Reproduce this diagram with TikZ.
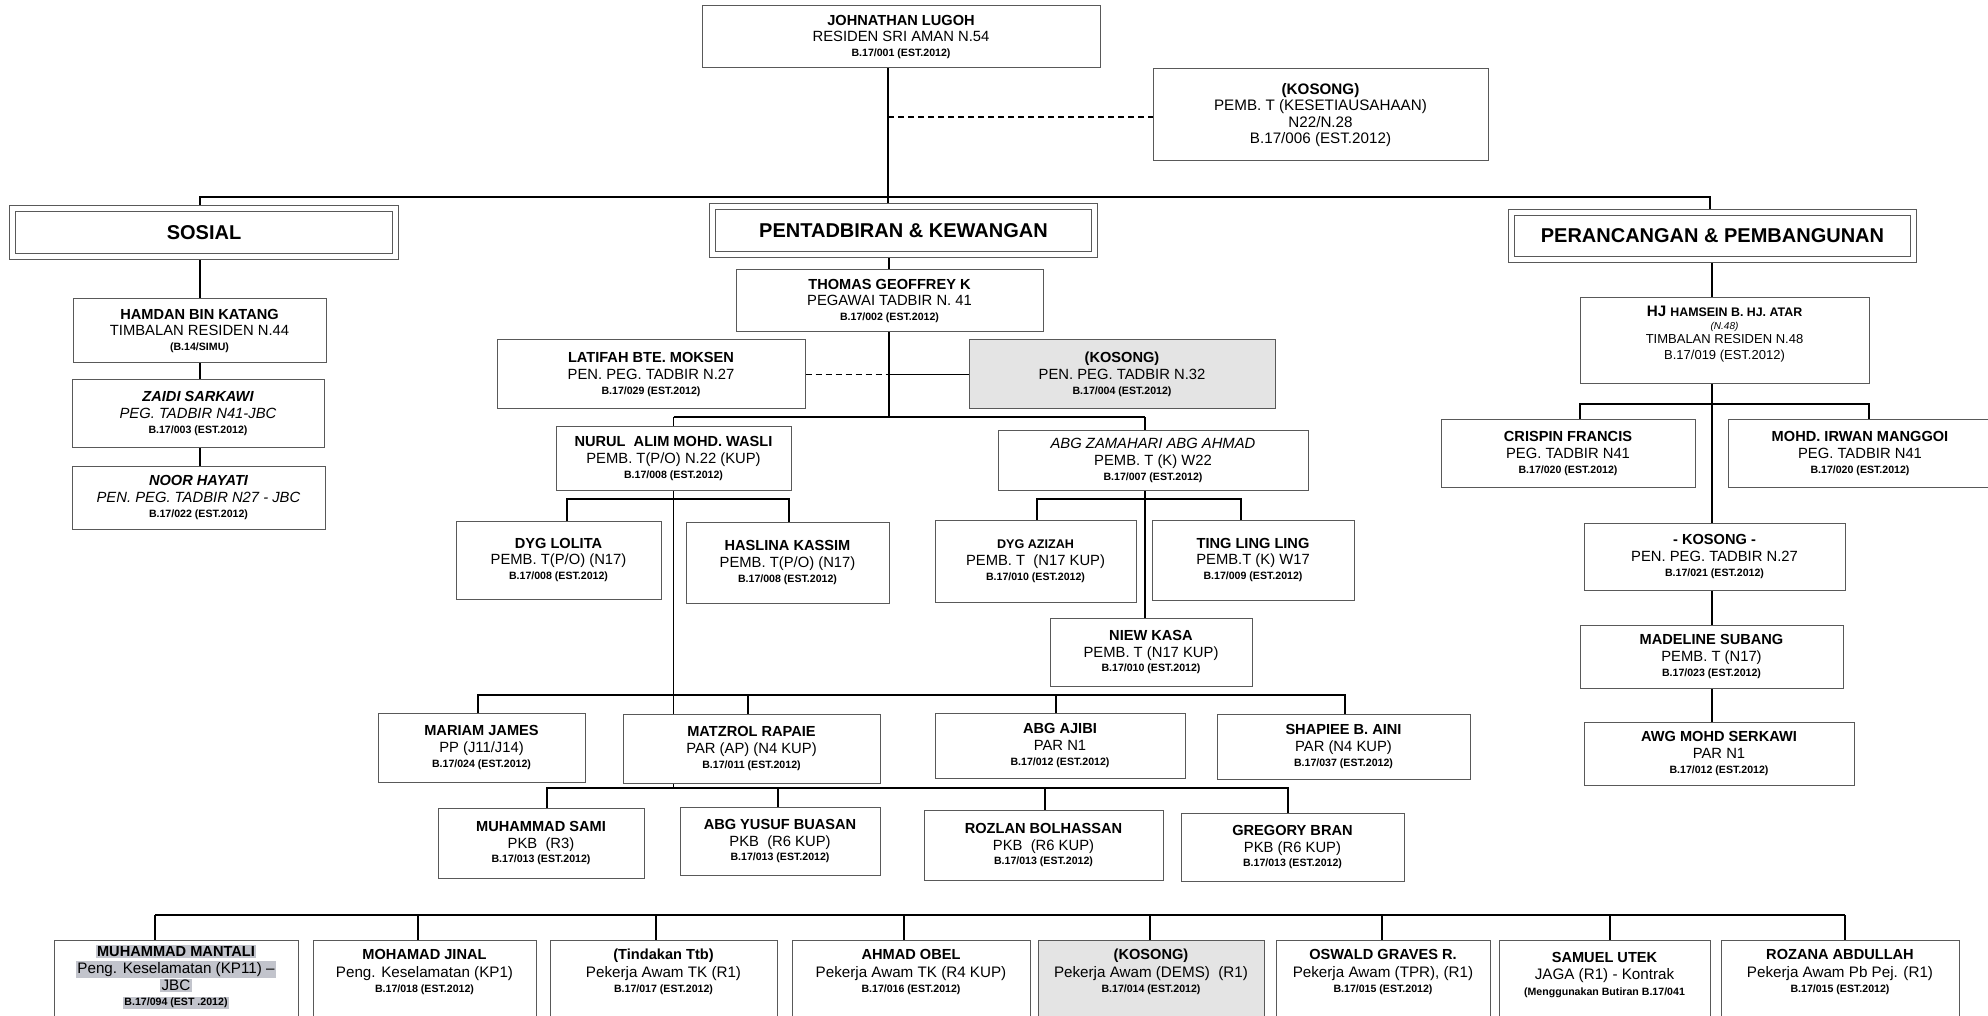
\documentclass[tikz,border=0pt]{standalone}
\usepackage{fontspec}
\setmainfont{Liberation Sans}
\usetikzlibrary{backgrounds}
\definecolor{hlgray}{HTML}{C2C4CC}
\definecolor{kosgray}{HTML}{E4E4E4}
\newcommand\bxname[1]{{\bfseries\fontsize{7.3}{8.4}\selectfont #1}}
\newcommand\bxcode[1]{{\bfseries\fontsize{5.3}{6}\selectfont #1}}
\newcommand\hlbox[1]{{\setlength\fboxsep{0.7pt}\colorbox{hlgray}{#1}}}
\begin{document}
\begin{tikzpicture}[x=0.5pt,y=-0.5pt,
  box/.style 2 args={draw=black!65, line width=0.5pt, fill=white,
    minimum width=#1*0.5pt, minimum height=#2*0.5pt, inner sep=1pt,
    align=center, font=\fontsize{7.4}{8.4}\selectfont},
  hdr/.style 2 args={box={#1}{#2}, double=white, double distance=2.2pt,
    line width=0.45pt, font=\bfseries\fontsize{10}{12}\selectfont},
  bbox/.style={draw=black!65, line width=0.5pt, fill=white,
    minimum width=#1*0.5pt, minimum height=45pt, inner sep=0pt},
  btext/.style={align=center, inner sep=0pt, font=\fontsize{7.6}{8.6}\selectfont},
  conn/.style={draw=black, line width=0.8pt},
  dconn/.style={conn, dashed, dash pattern=on 3pt off 2pt, line width=0.6pt}]
\useasboundingbox (0,0) rectangle (1988,1016);

% ---------- top ----------
\node[box={398}{62}] (john) at (901,37) {\bxname{JOHNATHAN LUGOH}\\ RESIDEN SRI AMAN N.54\\[-1pt] \bxcode{B.17/001 (EST.2012)}};
\node[box={335}{92}, font=\fontsize{7.6}{8.3}\selectfont] (kos1) at (1320.5,115) {\textbf{(KOSONG)}\\ PEMB. T (KESETIAUSAHAAN)\\ N22/N.28\\ B.17/006 (EST.2012)};

% ---------- headers ----------
\node[hdr={383}{48}] (sosial) at (204,232.5) {SOSIAL};
\node[hdr={382}{48}] (pent) at (903.5,230.5) {PENTADBIRAN \& KEWANGAN};
\node[hdr={402}{47}] (peran) at (1712.5,236) {PERANCANGAN \& PEMBANGUNAN};

% ---------- sosial ----------
\node[box={253}{64}] (hamdan) at (199.5,331) {\bxname{HAMDAN BIN KATANG}\\ TIMBALAN RESIDEN N.44\\[-1pt] \bxcode{(B.14/SIMU)}};
\node[box={252}{67}] (zaidi) at (198,413.5) {\bxname{\itshape ZAIDI SARKAWI}\\ \textit{PEG. TADBIR N41-JBC}\\[-1pt] \bxcode{B.17/003 (EST.2012)}};
\node[box={253}{63}] (noor) at (198.5,497.5) {\bxname{\itshape NOOR HAYATI}\\ \textit{PEN. PEG. TADBIR N27 - JBC}\\[-1pt] \bxcode{B.17/022 (EST.2012)}};

% ---------- pentadbiran ----------
\node[box={307}{62}] (thomas) at (889.5,301) {\bxname{THOMAS GEOFFREY K}\\ PEGAWAI TADBIR N. 41\\[-1pt] \bxcode{B.17/002 (EST.2012)}};
\node[box={308}{69}] (latifah) at (651,374.5) {\bxname{LATIFAH BTE. MOKSEN}\\ PEN. PEG. TADBIR N.27\\[-1pt] \bxcode{B.17/029 (EST.2012)}};
\node[box={306}{69}, fill=kosgray] (kos32) at (1122,374.5) {\bxname{(KOSONG)}\\ PEN. PEG. TADBIR N.32\\[-1pt] \bxcode{B.17/004 (EST.2012)}};
\node[box={235}{63}] (nurul) at (673.5,458.5) {\bxname{NURUL\ \ ALIM MOHD. WASLI}\\ PEMB. T(P/O) N.22 (KUP)\\[-1pt] \bxcode{B.17/008 (EST.2012)}};
\node[box={310}{59}] (zamahari) at (1153,460.5) {{\itshape ABG ZAMAHARI ABG AHMAD}\\ PEMB. T (K) W22\\[-1pt] \bxcode{B.17/007 (EST.2012)}};
\node[box={205}{78}] (lolita) at (558.5,560) {\bxname{DYG LOLITA}\\ PEMB. T(P/O) (N17)\\[-1pt] \bxcode{B.17/008 (EST.2012)}};
\node[box={203}{81}] (haslina) at (787.5,562.5) {\bxname{HASLINA KASSIM}\\ PEMB. T(P/O) (N17)\\[-1pt] \bxcode{B.17/008 (EST.2012)}};
\node[box={201}{82}] (azizah) at (1035.5,561) {{\bfseries\fontsize{6.3}{8}\selectfont DYG AZIZAH}\\ PEMB. T\ \ (N17 KUP)\\[-1pt] \bxcode{B.17/010 (EST.2012)}};
\node[box={202}{80}] (ting) at (1253,560) {\bxname{TING LING LING}\\ PEMB.T (K) W17\\[-1pt] \bxcode{B.17/009 (EST.2012)}};
\node[box={202}{68}] (niew) at (1151,652) {\bxname{NIEW KASA}\\ PEMB. T (N17 KUP)\\[-1pt] \bxcode{B.17/010 (EST.2012)}};

\node[box={207}{69}] (mariam) at (481.5,747.5) {\bxname{MARIAM JAMES}\\ PP (J11/J14)\\[-1pt] \bxcode{B.17/024 (EST.2012)}};
\node[box={257}{69}] (matzrol) at (751.5,748.5) {\bxname{MATZROL RAPAIE}\\ PAR (AP) (N4 KUP)\\[-1pt] \bxcode{B.17/011 (EST.2012)}};
\node[box={250}{65}] (ajibi) at (1060,745.5) {\bxname{ABG AJIBI}\\ PAR N1\\[-1pt] \bxcode{B.17/012 (EST.2012)}};
\node[box={253}{65}] (shapiee) at (1343.5,746.5) {\bxname{SHAPIEE B. AINI}\\ PAR (N4 KUP)\\[-1pt] \bxcode{B.17/037 (EST.2012)}};

\node[box={206}{70}] (sami) at (541,843) {\bxname{MUHAMMAD SAMI}\\ PKB\ \ (R3)\\[-1pt] \bxcode{B.17/013 (EST.2012)}};
\node[box={200}{68}] (yusuf) at (780,841) {\bxname{ABG YUSUF BUASAN}\\ PKB\ \ (R6 KUP)\\[-1pt] \bxcode{B.17/013 (EST.2012)}};
\node[box={239}{70}] (rozlan) at (1043.5,845) {\bxname{ROZLAN BOLHASSAN}\\ PKB\ \ (R6 KUP)\\[-1pt] \bxcode{B.17/013 (EST.2012)}};
\node[box={223}{68}] (gregory) at (1292.5,847) {\bxname{GREGORY BRAN}\\ PKB (R6 KUP)\\[-1pt] \bxcode{B.17/013 (EST.2012)}};

% ---------- perancangan ----------
\node[box={289}{86}] (hamsein) at (1724.5,341) {};
\node[align=center, inner sep=0pt, font=\fontsize{6.5}{7.2}\selectfont] (hamseint) at (1724.5,334) {{\bfseries\fontsize{7.6}{8.4}\selectfont HJ {\fontsize{6.2}{8}\selectfont HAMSEIN B. HJ. ATAR}}\\[-0.3pt]
  {\itshape\fontsize{5}{6}\selectfont (N.48)}\\[-0.6pt]
  TIMBALAN RESIDEN N.48\\[1pt]
  B.17/019 (EST.2012)};
\node[box={254}{67}] (crispin) at (1568,453.5) {\bxname{CRISPIN FRANCIS}\\ PEG. TADBIR N41\\[-1pt] \bxcode{B.17/020 (EST.2012)}};
\node[box={264}{67}] (irwan) at (1860,453.5) {\bxname{MOHD. IRWAN MANGGOI}\\ PEG. TADBIR N41\\[-1pt] \bxcode{B.17/020 (EST.2012)}};
\node[box={261}{67}] (kos27) at (1714.5,556.5) {\bxname{- KOSONG -}\\ PEN. PEG. TADBIR N.27\\[-1pt] \bxcode{B.17/021 (EST.2012)}};
\node[box={263}{63}] (madeline) at (1711.5,656.5) {\bxname{MADELINE SUBANG}\\ PEMB. T (N17)\\[-1pt] \bxcode{B.17/023 (EST.2012)}};
\node[box={270}{63}] (awg) at (1719,753.5) {\bxname{AWG MOHD SERKAWI}\\ PAR N1\\[-1pt] \bxcode{B.17/012 (EST.2012)}};

% ---------- bottom row ----------
\node[bbox=244] (mantali) at (176,985) {};
\node[bbox=223] (jinal) at (424.5,985) {};
\node[bbox=227] (tindakan) at (663.5,985) {};
\node[bbox=238] (obel) at (911,985) {};
\node[bbox=226, fill=kosgray] (dems) at (1151,985) {};
\node[bbox=214] (oswald) at (1383,985) {};
\node[bbox=211] (samuel) at (1604.5,985) {};
\node[bbox=238] (rozana) at (1840,985) {};

\node[btext] (mantalit) at (176,977) {\hlbox{\bxname{MUHAMMAD MANTALI}}\\ \hlbox{Peng. Keselamatan (KP11) –}\\ \hlbox{JBC}\\[-1pt] \hlbox{\bxcode{B.17/094 (EST .2012)}}};
\node[btext] (jinalt) at (424.5,972) {\bxname{MOHAMAD JINAL}\\ Peng. Keselamatan (KP1)\\[-1pt] \bxcode{B.17/018 (EST.2012)}};
\node[btext] (tindakant) at (663.5,972) {\bxname{(Tindakan Ttb)}\\ Pekerja Awam TK (R1)\\[-1pt] \bxcode{B.17/017 (EST.2012)}};
\node[btext] (obelt) at (911,972) {\bxname{AHMAD OBEL}\\ Pekerja Awam TK (R4 KUP)\\[-1pt] \bxcode{B.17/016 (EST.2012)}};
\node[btext] (demst) at (1151,972) {\bxname{(KOSONG)}\\ Pekerja Awam (DEMS)\ \ (R1)\\[-1pt] \bxcode{B.17/014 (EST.2012)}};
\node[btext] (oswaldt) at (1383,972) {\bxname{OSWALD GRAVES R.}\\ Pekerja Awam (TPR), (R1)\\[-1pt] \bxcode{B.17/015 (EST.2012)}};
\node[btext] (samuelt) at (1604.5,975) {\bxname{SAMUEL UTEK}\\ JAGA (R1) - Kontrak\\[-1pt] \bxcode{(Menggunakan Butiran B.17/041}};
\node[btext] (rozanat) at (1840,972) {\bxname{ROZANA ABDULLAH}\\ Pekerja Awam Pb Pej. (R1)\\[-1pt] \bxcode{B.17/015 (EST.2012)}};

% ---------- junction coordinates ----------
\coordinate (busL) at (200,197);
\coordinate (busM) at (888,197);
\coordinate (busR) at (1710,197);
\coordinate (dashA) at (888,117);
\coordinate (pm) at (889,0);
\coordinate (b2L) at (673.5,417);
\coordinate (b2M) at (889,417);
\coordinate (b2R) at (1145,417);
\coordinate (dl) at (889,374.5);
\coordinate (b3L) at (567,499);
\coordinate (b3R) at (789,499);
\coordinate (b4L) at (1037,499);
\coordinate (b4R) at (1241,499);
\coordinate (r1L) at (478,695);
\coordinate (r1b) at (748,695);
\coordinate (r1c) at (1056,695);
\coordinate (r1R) at (1345,695);
\coordinate (b5L) at (547,788);
\coordinate (b5b) at (778,788);
\coordinate (b5N) at (673.5,788);
\coordinate (b5c) at (1045,788);
\coordinate (b5R) at (1288,788);
\coordinate (rx) at (1712,0);
\coordinate (r3L) at (1580,404);
\coordinate (r3R) at (1869,404);
\coordinate (d1) at (155,915);
\coordinate (d2) at (418,915);
\coordinate (d3) at (656,915);
\coordinate (d4) at (904,915);
\coordinate (d5) at (1150,915);
\coordinate (d6) at (1382,915);
\coordinate (d7) at (1610,915);
\coordinate (d8) at (1845,915);

% ---------- connectors ----------
\begin{pgfonlayer}{background}
\draw[conn] (john.south -| busM) -- (pent.north -| busM);
\draw[dconn] (dashA) -- (kos1.west |- dashA);
\draw[conn] (busL |- sosial.north) -- (busL) -- (busR) -- (busR |- peran.north);
\draw[conn] (sosial.south -| busL) -- (hamdan.north -| busL);
\draw[conn] (hamdan.south -| busL) -- (zaidi.north -| busL);
\draw[conn] (zaidi.south -| busL) -- (noor.north -| busL);

\draw[conn] (pent.south -| pm) -- (thomas.north -| pm);
\draw[conn] (thomas.south -| pm) -- (b2M);
\draw[dconn] (latifah.east) -- (dl);
\draw[conn] (dl) -- (kos32.west);
\draw[conn] (b2L) -- (b2R);
\draw[conn] (b2L) -- (nurul.north -| b2L);
\draw[conn] (b2R) -- (zamahari.north -| b2R);
\draw[conn] (nurul.south) -- (b5N);
\draw[conn] (lolita.north -| b3L) -- (b3L) -- (b3R) -- (haslina.north -| b3R);
\draw[conn] (azizah.north -| b4L) -- (b4L) -- (b4R) -- (ting.north -| b4R);
\draw[conn] (zamahari.south -| b2R) -- (niew.north -| b2R);

\draw[conn] (mariam.north -| r1L) -- (r1L) -- (r1R) -- (shapiee.north -| r1R);
\draw[conn] (r1b) -- (matzrol.north -| r1b);
\draw[conn] (r1c) -- (ajibi.north -| r1c);

\draw[conn] (sami.north -| b5L) -- (b5L) -- (b5R) -- (gregory.north -| b5R);
\draw[conn] (b5b) -- (yusuf.north -| b5b);
\draw[conn] (b5c) -- (rozlan.north -| b5c);

\draw[conn] (peran.south -| rx) -- (hamsein.north -| rx);
\draw[conn] (hamsein.south -| rx) -- (awg.north -| rx);
\draw[conn] (crispin.north -| r3L) -- (r3L) -- (r3R) -- (irwan.north -| r3R);

\draw[conn] (d1) -- (d8);
\draw[conn] (d1) -- (mantali.north -| d1);
\draw[conn] (d2) -- (jinal.north -| d2);
\draw[conn] (d3) -- (tindakan.north -| d3);
\draw[conn] (d4) -- (obel.north -| d4);
\draw[conn] (d5) -- (dems.north -| d5);
\draw[conn] (d6) -- (oswald.north -| d6);
\draw[conn] (d7) -- (samuel.north -| d7);
\draw[conn] (d8) -- (rozana.north -| d8);
\end{pgfonlayer}
\end{tikzpicture}
\end{document}
